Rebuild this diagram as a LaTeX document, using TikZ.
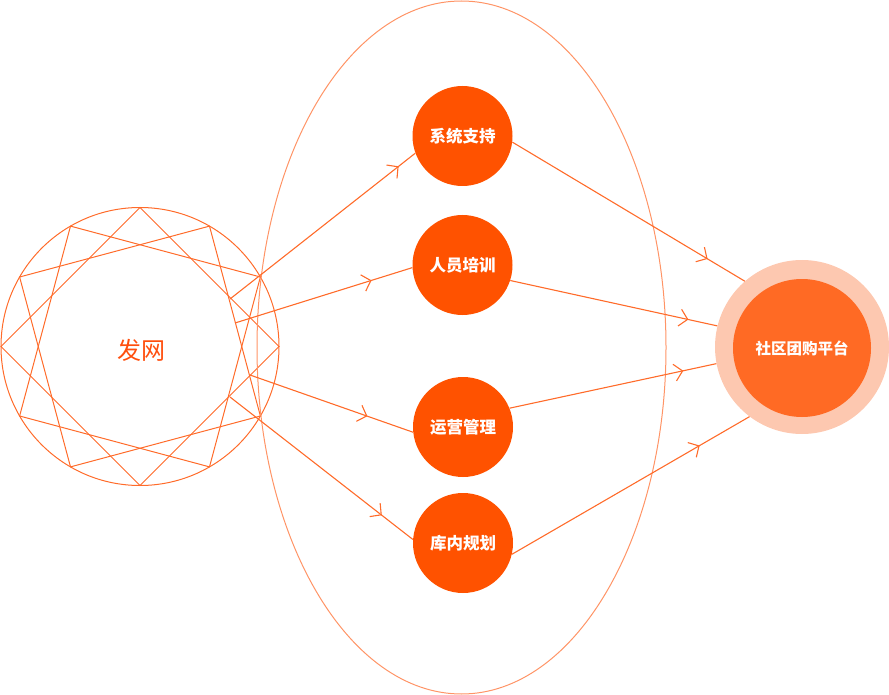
\documentclass[tikz,border=0pt]{standalone}
\usepackage{fontspec}
\newfontfamily\cjk{Noto Sans CJK SC}
\usetikzlibrary{arrows.meta,decorations.markings}
\definecolor{lineor}{HTML}{FF6B2A}
\definecolor{ellor}{HTML}{FF9466}
\definecolor{dotor}{HTML}{FF5200}
\definecolor{bigor}{HTML}{FF6A24}
\definecolor{peach}{HTML}{FDC8B0}
\definecolor{txtor}{HTML}{FF4E0D}
\begin{document}
\begin{tikzpicture}[x=1pt,y=-1pt,
  starline/.style={draw=lineor,line width=1pt},
  ring/.style={draw=ellor,line width=1pt},
  dot/.style={circle,fill=dotor,minimum size=100pt,inner sep=0pt,text=white,font=\cjk\bfseries\fontsize{16.5}{20}\selectfont},
  flow/.style={draw=lineor,line width=1.1pt,postaction={decorate},
    decoration={markings,mark=at position #1 with {\arrow{Straight Barb[length=8pt,width=17pt,color=lineor]}}}},
]
\useasboundingbox (0,0) rectangle (889,695);
% star figure
\draw[starline] (140,346.5) circle[radius=139];
\begin{scope}[shift={(140,346.5)}]
\foreach \a in {0,30,60}
  \draw[starline] (\a:139) -- (\a+90:139) -- (\a+180:139) -- (\a+270:139) -- cycle;
\end{scope}
\node[text=txtor,font=\cjk\fontsize{24}{28}\selectfont] (fa) at (141,350) {发网};
% big ellipse
\draw[ring] (461.5,347.5) ellipse[x radius=204.5, y radius=346.5];
% nodes
\node[dot] (c1) at (462.5,136) {系统支持};
\node[dot] (c2) at (462.5,265) {人员培训};
\node[dot] (c3) at (463,427) {运营管理};
\node[dot] (c4) at (463,543) {库内规划};
\node[circle,fill=peach,minimum size=174pt,inner sep=0pt] (big) at (802,347) {};
\node[circle,fill=bigor,minimum size=138pt,inner sep=0pt,text=white,font=\cjk\bfseries\fontsize{15.5}{18}\selectfont] (bigin) at (802,348) {社区团购平台};
% start points
\coordinate (s1) at (230,299);
\coordinate (s2) at (235,323);
\coordinate (s3) at (250,375);
\coordinate (s4) at (230,397);
% arrows
\draw[flow=0.91] (s1) -- (c1.200);
\draw[flow=0.77] (s2) -- (c2.183);
\draw[flow=0.72] (s3) -- (c3.186);
\draw[flow=0.83] (s4) -- (c4.176);
\draw[flow=0.84] (c1.-7) -- (big.131);
\draw[flow=0.86] (c2.-18) -- (big.166);
\draw[flow=0.84] (c3.22) -- (big.191);
\draw[flow=0.79] (c4.-13) -- (big.233);
\end{tikzpicture}
\end{document}
